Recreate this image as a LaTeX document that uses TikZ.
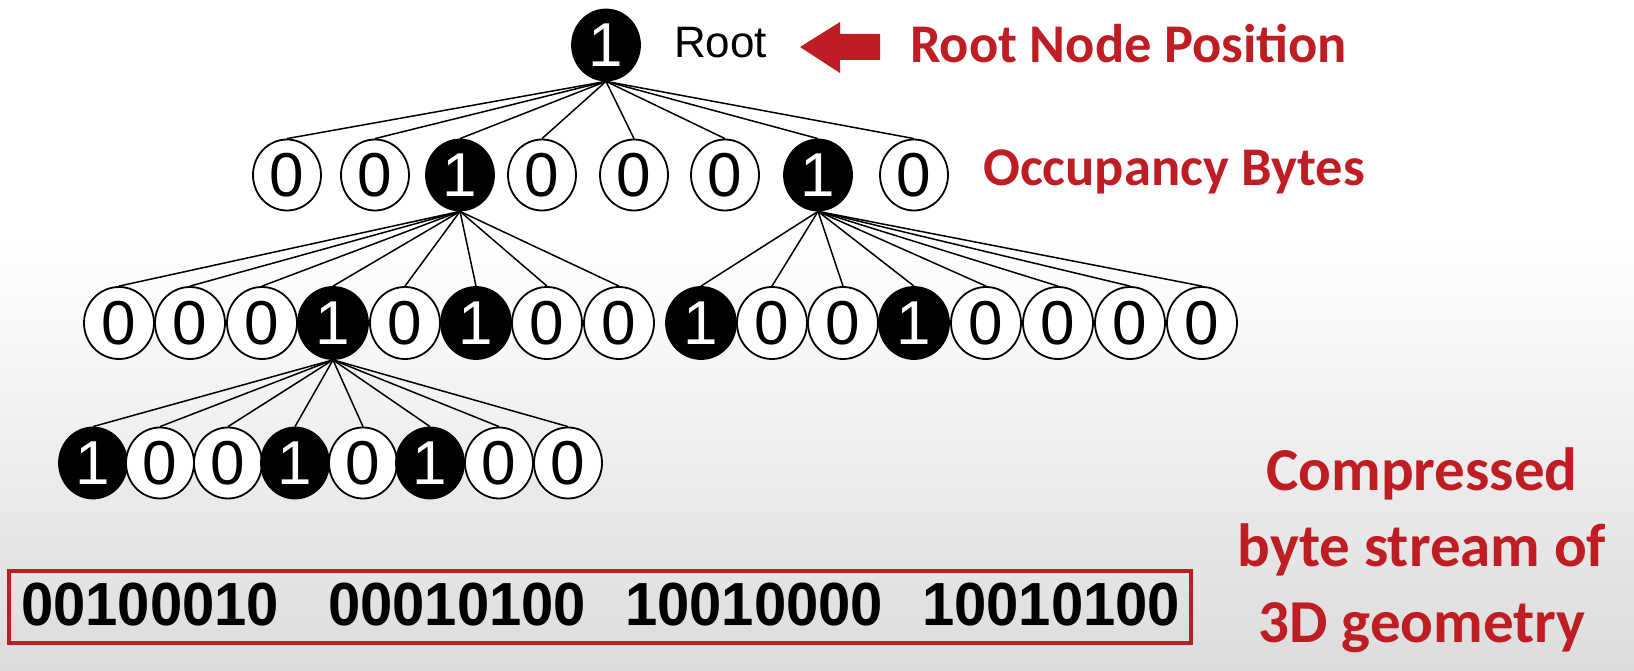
\documentclass[tikz,border=0pt]{standalone}
\usepackage{fontspec}
\setmainfont{Liberation Sans}
\newfontfamily\calib{Carlito}
\usetikzlibrary{shapes.geometric}
\definecolor{myred}{RGB}{190,30,35}
\definecolor{bggray}{RGB}{220,220,220}
\tikzset{
  bit/.style={ellipse, draw=black, line width=1.8pt, minimum width=68pt, minimum height=71pt, inner sep=0pt, font=\fontsize{62}{62}\selectfont},
  b0/.style={bit, fill=white, text=black},
  b1/.style={bit, fill=black, text=white},
  link/.style={line width=1.5pt},
  redtxt/.style={text=myred, font=\calib\bfseries\fontsize{54.5}{56}\selectfont, inner sep=0pt},
  bytetxt/.style={font=\bfseries\fontsize{58}{58}\selectfont, inner sep=0pt, anchor=west},
}
\begin{document}
\begin{tikzpicture}[x=1pt,y=-1pt]
\useasboundingbox (0,0) rectangle (1634,671);
\fill[white] (0,0) rectangle (1634,671);
\shade[top color=white, bottom color=bggray] (0,240) rectangle (1634,671);

% root
\node[b1] (root) at (606,45) {1};
\node[anchor=west, inner sep=0pt, font=\fontsize{44}{44}\selectfont] (roottxt) at (674,43) {Root};
\fill[myred] (800,47) -- (840,22) -- (840,34) -- (880,34) -- (880,60) -- (840,60) -- (840,73) -- cycle;
\node[redtxt, anchor=west] (rnp) at (910,44) {Root Node Position};
\node[redtxt, anchor=west] (occ) at (983,172) {Occupancy Bytes};

% level 1
\foreach \x/\b [count=\i] in {287/0,375/0,460/1,542/0,634/0,725/0,818/1,914/0}
  \node[b\b] (a\i) at (\x,175) {\b};
\foreach \i in {1,...,8} \draw[link] (root.south) -- (a\i.north);

% level 2
\foreach \x/\b [count=\i] in {119/0,190/0,262/0,333/1,405/0,476/1,547/0,619/0,701/1,772/0,843/0,914/1,986/0,1058/0,1130/0,1202/0}
  \node[b\b, minimum width=70pt, minimum height=72pt] (c\i) at (\x,323) {\b};
\foreach \i in {1,...,8} \draw[link] (a3.south) -- (c\i.north);
\foreach \i in {9,...,16} \draw[link] (a7.south) -- (c\i.north);

% level 3
\foreach \x/\b [count=\i] in {93/1,160/0,228/0,295/1,363/0,430/1,499/0,568/0}
  \node[b\b] (d\i) at (\x,463) {\b};
\foreach \i in {1,...,8} \draw[link] (c4.south) -- (d\i.north);

% byte stream
\node[draw=myred, line width=4.5pt, minimum width=1182pt, minimum height=72pt, inner sep=0pt] (box) at (600,607) {};
\node[bytetxt] (s1) at (21,605) {\scalebox{1}[1.05]{00100010}};
\node[bytetxt] (s2) at (328,605) {\scalebox{1}[1.05]{00010100}};
\node[bytetxt] (s3) at (625,605) {\scalebox{1}[1.05]{10010000}};
\node[bytetxt] (s4) at (922,605) {\scalebox{1}[1.05]{10010100}};

\node[redtxt, align=center, font=\calib\bfseries\fontsize{61}{76}\selectfont] (cmp) at (1422,550) {Compressed\\byte stream of\\3D geometry};
\end{tikzpicture}
\end{document}
